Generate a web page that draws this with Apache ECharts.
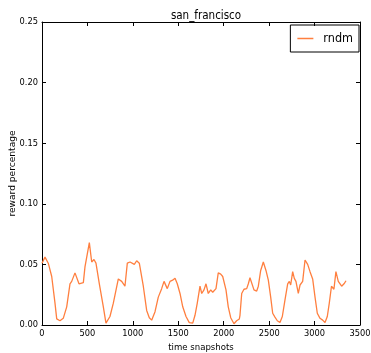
<!DOCTYPE html>
<html>
<head>
<meta charset="utf-8">
<script src="https://cdn.jsdelivr.net/npm/echarts@6/dist/echarts.min.js"></script>
<style>html,body{margin:0;padding:0;background:#fff}#c{width:371px;height:353px}</style>
</head>
<body>
<div id="c"></div>
<script>
const titleText = "san_francisco";
const seriesName = "rndm";
const xTicks = [0, 500, 1000, 1500, 2000, 2500, 3000, 3500];
const yTicks = [0.00, 0.05, 0.10, 0.15, 0.20, 0.25];
const snapshots = [0, 33, 69, 107, 143, 162, 198, 234, 272, 308, 327, 344, 363, 382, 407, 455, 473, 521, 547, 572, 594, 631, 675, 704, 723, 748, 785, 840, 877, 913, 939, 969, 1016, 1042, 1071, 1115, 1152, 1181, 1207, 1244, 1280, 1317, 1343, 1379, 1409, 1438, 1464, 1489, 1519, 1549, 1585, 1621, 1659, 1684, 1709, 1739, 1758, 1783, 1805, 1830, 1857, 1879, 1915, 1940, 1967, 1989, 2025, 2050, 2077, 2113, 2142, 2172, 2179, 2198, 2223, 2253, 2271, 2289, 2311, 2333, 2363, 2381, 2407, 2436, 2465, 2491, 2517, 2539, 2564, 2590, 2619, 2645, 2674, 2704, 2722, 2737, 2759, 2777, 2795, 2821, 2840, 2869, 2895, 2924, 2950, 2979, 3005, 3030, 3060, 3089, 3115, 3140, 3162, 3186, 3213, 3235, 3261, 3280, 3298, 3324, 3346];
const rewards = [0.051, 0.056, 0.051, 0.040, 0.018, 0.005, 0.0035, 0.0055, 0.015, 0.034, 0.036, 0.035, 0.043, 0.042, 0.034, 0.035, 0.048, 0.068, 0.052, 0.054, 0.051, 0.034, 0.015, 0.0015, 0.001, 0.007, 0.018, 0.038, 0.036, 0.032, 0.051, 0.052, 0.050, 0.053, 0.051, 0.032, 0.012, 0.006, 0.004, 0.011, 0.023, 0.030, 0.036, 0.030, 0.036, 0.037, 0.0385, 0.034, 0.026, 0.015, 0.007, 0.002, 0.0015, 0.008, 0.018, 0.032, 0.026, 0.029, 0.034, 0.026, 0.029, 0.027, 0.030, 0.043, 0.042, 0.040, 0.029, 0.015, 0.006, 0.001, 0.0035, 0.005, 0.008, 0.026, 0.0295, 0.030, 0.034, 0.039, 0.038, 0.029, 0.028, 0.032, 0.045, 0.052, 0.045, 0.037, 0.023, 0.0097, 0.0065, 0.0035, 0.002, 0.007, 0.0206, 0.034, 0.036, 0.033, 0.044, 0.0385, 0.036, 0.026, 0.033, 0.036, 0.0536, 0.050, 0.044, 0.038, 0.023, 0.0097, 0.0055, 0.004, 0.002, 0.007, 0.018, 0.032, 0.0295, 0.044, 0.036, 0.035, 0.032, 0.034, 0.0365];

const font = "'DejaVu Sans Condensed', 'DejaVu Sans'";
const fontV = "'DejaVu Sans'";
const lineColor = "#ff7f3f";
const data = snapshots.map((x, i) => [x, rewards[i]]);
const axisLine = {show: true, onZero: false, lineStyle: {color: "#000", width: 1}};
const tick = {show: true, inside: true, length: 4, lineStyle: {color: "#000"}};

const chart = echarts.init(document.getElementById("c"), null, {renderer: "canvas"});
chart.setOption({
  animation: false,
  backgroundColor: "#fff",
  title: {text: titleText, left: 201, top: 5, textAlign: "center",
    textStyle: {fontFamily: font, fontSize: 11.5, fontWeight: "normal", color: "#000"}},
  legend: {
    right: 12, top: 25, orient: "vertical",
    data: [{name: seriesName, icon: "rect"}],
    itemWidth: 16, itemHeight: 1.5, itemGap: 4,
    padding: [7, 6, 7, 7],
    borderColor: "#000", borderWidth: 1, borderRadius: 0,
    textStyle: {fontFamily: font, fontSize: 12.5, color: "#000", padding: [0, 0, 0, 5]}
  },
  grid: {left: 42, right: 11, top: 22, bottom: 28, containLabel: false, outerBoundsMode: "none"},
  xAxis: [{
    type: "value", min: xTicks[0], max: xTicks[xTicks.length - 1], interval: 500,
    name: "time snapshots", nameLocation: "middle", nameGap: 18, nameMoveOverlap: false,
    nameTextStyle: {fontFamily: font, fontSize: 9.5, color: "#000"},
    axisLine: axisLine, axisTick: tick, splitLine: {show: false},
    axisLabel: {fontFamily: font, fontSize: 9.2, color: "#000", margin: 4, formatter: v => String(v)}
  }, {
    type: "value", position: "top", min: xTicks[0], max: xTicks[xTicks.length - 1], interval: 500,
    axisLine: axisLine, axisTick: tick, splitLine: {show: false}, axisLabel: {show: false}
  }],
  yAxis: [{
    type: "value", min: yTicks[0], max: yTicks[yTicks.length - 1], interval: 0.05,
    name: "reward percentage", nameLocation: "middle", nameGap: 25, nameMoveOverlap: false,
    nameTextStyle: {fontFamily: fontV, fontSize: 9.1, color: "#000"},
    axisLine: axisLine, axisTick: tick, splitLine: {show: false},
    axisLabel: {fontFamily: font, fontSize: 9.2, color: "#000", margin: 4,
      formatter: v => v.toFixed(2)}
  }, {
    type: "value", position: "right", min: yTicks[0], max: yTicks[yTicks.length - 1], interval: 0.05,
    axisLine: axisLine, axisTick: tick, splitLine: {show: false}, axisLabel: {show: false}
  }],
  series: [{
    name: seriesName, type: "line", data: data, showSymbol: false, symbol: "none",
    lineStyle: {color: lineColor, width: 1.3}, itemStyle: {color: lineColor}
  }]
});
</script>
</body>
</html>
